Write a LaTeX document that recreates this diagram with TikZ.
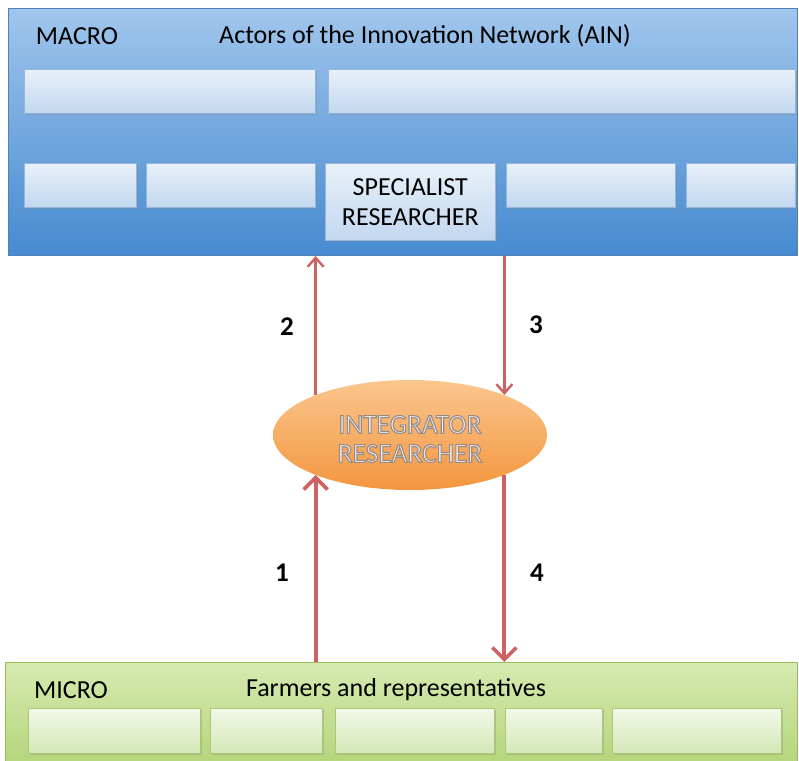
\documentclass[tikz,border=0pt]{standalone}
\usepackage{fontspec}
\setmainfont{Carlito}
\usetikzlibrary{shapes.geometric,shadows,arrows.meta}
\definecolor{macroTop}{RGB}{160,198,236}
\definecolor{macroBot}{RGB}{70,138,208}
\definecolor{macroLine}{RGB}{79,129,189}
\definecolor{inTop}{RGB}{232,241,250}
\definecolor{inBot}{RGB}{194,215,238}
\definecolor{inLine}{RGB}{150,182,220}
\definecolor{microTop}{RGB}{214,234,176}
\definecolor{microBot}{RGB}{178,212,118}
\definecolor{microLine}{RGB}{155,187,89}
\definecolor{minTop}{RGB}{242,248,232}
\definecolor{minBot}{RGB}{212,231,182}
\definecolor{minLine}{RGB}{170,200,120}
\definecolor{orTop}{RGB}{250,198,142}
\definecolor{orBot}{RGB}{243,150,62}
\definecolor{arr}{RGB}{205,98,98}
\definecolor{inttxt}{RGB}{246,236,232}
\newcommand{\outlinetext}[1]{\special{pdf:literal direct 2 Tr 1.1 w 0.58 0.54 0.54 RG}#1\special{pdf:literal direct 0 Tr}}
\begin{document}
\begin{tikzpicture}[x=1pt,y=-1pt,
  font=\fontsize{26}{30}\selectfont,
  bigbox/.style={draw, line width=1pt, shading=axis, inner sep=0pt, anchor=north west},
  macrostyle/.style={bigbox, draw=macroLine, top color=macroTop, bottom color=macroBot},
  microstyle/.style={bigbox, draw=microLine, top color=microTop, bottom color=microBot},
  blubox/.style={draw=inLine, line width=0.6pt, shading=axis, top color=inTop, bottom color=inBot, inner sep=0pt, anchor=north west,
     drop shadow={shadow xshift=1.2pt, shadow yshift=-1.8pt, opacity=0.35}},
  grnbox/.style={draw=minLine, line width=0.6pt, shading=axis, top color=minTop, bottom color=minBot, inner sep=0pt, anchor=north west,
     drop shadow={shadow xshift=1.2pt, shadow yshift=-1.8pt, opacity=0.3}},
  arrthin/.style={draw=arr, line width=2.6pt, -{Straight Barb[length=9pt,width=16pt,line width=2.4pt]}},
  arrthick/.style={draw=arr, line width=4pt, -{Straight Barb[length=12pt,width=24pt,line width=3.6pt]}},
  numlab/.style={font=\fontsize{27}{30}\selectfont\bfseries}
]
\useasboundingbox (0,0) rectangle (799,760);
% MACRO
\node[macrostyle, minimum width=789pt, minimum height=247pt] (macro) at (8,8) {};
\node (macrolab) at (77,36) {MACRO};
\node (ain) at (425,36) {Actors of the Innovation Network (AIN)};
\node[blubox, minimum width=291pt, minimum height=44pt] (b1) at (24,69) {};
\node[blubox, minimum width=467pt, minimum height=44pt] (b2) at (328,69) {};
\node[blubox, minimum width=112pt, minimum height=44pt] (b3) at (24,163) {};
\node[blubox, minimum width=169pt, minimum height=44pt] (b4) at (146,163) {};
\node[blubox, minimum width=170pt, minimum height=77pt, align=center, font=\fontsize{26}{30}\selectfont] (spec) at (325,163) {SPECIALIST\\RESEARCHER};
\node[blubox, minimum width=169pt, minimum height=44pt] (b5) at (506,163) {};
\node[blubox, minimum width=109pt, minimum height=44pt] (b6) at (686,163) {};
% MICRO
\node[microstyle, minimum width=792pt, minimum height=110pt] (micro) at (5,662) {};
\node (microlab) at (71,690) {MICRO};
\node (farm) at (396,690) {Farmers and representatives};
\node[grnbox, minimum width=172pt, minimum height=45pt] (m1) at (28,708) {};
\node[grnbox, minimum width=112pt, minimum height=45pt] (m2) at (210,708) {};
\node[grnbox, minimum width=159pt, minimum height=45pt] (m3) at (335,708) {};
\node[grnbox, minimum width=97pt, minimum height=45pt] (m4) at (505,708) {};
\node[grnbox, minimum width=169pt, minimum height=45pt] (m5) at (612,708) {};
% Integrator
\node[ellipse, minimum width=274pt, minimum height=110pt, inner sep=0pt, shading=axis, top color=orTop, bottom color=orBot] (int) at (410,435) {};
\node[align=center, font=\fontsize{27.5}{29}\selectfont, text=inttxt] (inttext) at (410,439) {\outlinetext{INTEGRATOR}\\\outlinetext{RESEARCHER}};
% arrows
\draw[arrthin] (int.157) -- (int.157 |- macro.south);
\draw[arrthin] (int.23 |- macro.south) -- (int.23);
\draw[arrthick] (int.-157 |- micro.north) -- (int.-157);
\draw[arrthick] (int.-23) -- (int.-23 |- micro.north);
% labels
\node[numlab] (n2) at (287,327) {2};
\node[numlab] (n3) at (536,325) {3};
\node[numlab] (n1) at (282,573) {1};
\node[numlab] (n4) at (537,573) {4};
\end{tikzpicture}
\end{document}
